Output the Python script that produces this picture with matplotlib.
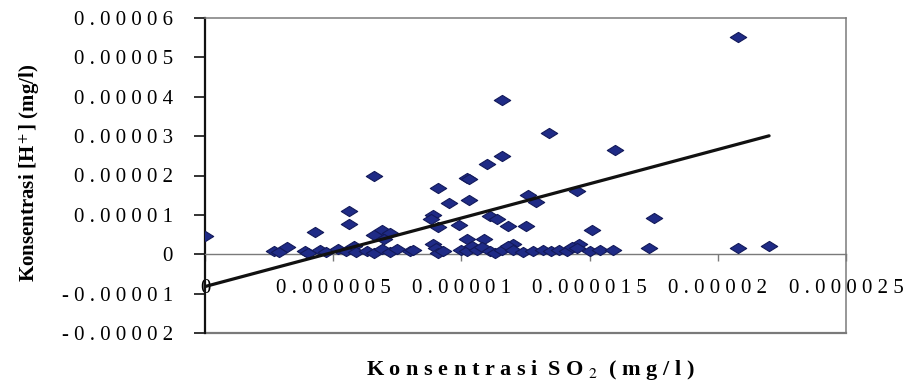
import numpy as np
import matplotlib
matplotlib.use("Agg")
import matplotlib.pyplot as plt
from matplotlib.path import Path

# SO2 vs H+ concentration samples, both in units of 1e-6 mg/l
so2_e6 = [0.0, 20.8, 11.6, 13.4, 16.0, 6.6, 11.6, 11.0, 10.2, 10.3, 9.1, 9.5, 10.3, 12.6,
          12.9, 14.5, 8.9, 8.8, 11.1, 11.4, 11.8, 9.9, 9.1, 12.5, 17.5, 15.1, 14.6, 5.6,
          5.6, 4.3, 6.9, 6.6, 7.2, 7.0, 10.2, 10.9, 12.0, 8.9,
          2.7, 2.9, 3.2, 3.9, 4.0, 4.5, 4.7, 5.2, 5.5, 5.8, 5.9, 6.3, 6.6, 6.9, 7.2, 7.5,
          8.0, 8.1, 9.0, 9.1, 9.3, 10.0, 10.2, 10.4, 10.6, 10.8, 11.1, 11.3, 11.6, 11.8,
          12.0, 12.4, 12.8, 13.2, 13.5, 13.8, 14.1, 14.3, 14.5, 15.0, 15.4, 15.9, 17.3,
          20.8, 22.0]
h_e6 = [4.7, 55.2, 39.2, 30.8, 26.5, 20.0, 24.9, 22.9, 19.4, 19.0, 16.8, 13.1, 13.9, 15.0,
        13.2, 16.0, 10.0, 8.9, 9.7, 8.9, 7.1, 7.5, 7.0, 7.1, 9.2, 6.1, 2.5, 10.9,
        7.6, 5.6, 6.2, 4.8, 5.4, 3.8, 3.8, 3.8, 2.5, 2.5,
        0.8, 0.5, 1.8, 0.8, 0.2, 1.0, 0.6, 1.3, 0.8, 2.0, 0.5, 0.8, 0.2, 1.3, 0.5, 1.3,
        0.8, 1.2, 1.5, 0.3, 0.8, 1.0, 0.8, 2.0, 1.0, 1.8, 0.8, 0.3, 1.0, 2.0,
        1.2, 0.6, 0.8, 1.0, 0.8, 1.0, 0.8, 1.8, 1.5, 0.8, 1.2, 1.0, 1.5,
        1.5, 2.0]
trend_intercept = -8.2e-6
trend_slope = 1.74

xticks = [0, 0.000005, 0.00001, 0.000015, 0.00002, 0.000025]
xtick_labels = ["0", "0.000005", "0.00001", "0.000015", "0.00002", "0.000025"]
yticks = [-0.00002, -0.00001, 0, 0.00001, 0.00002, 0.00003, 0.00004, 0.00005, 0.00006]
ytick_labels = ["-0.00002", "-0.00001", "0", "0.00001", "0.00002", "0.00003",
                "0.00004", "0.00005", "0.00006"]

so2 = np.array(so2_e6) * 1e-6
h = np.array(h_e6) * 1e-6

plt.rcParams["font.family"] = ["Liberation Serif", "DejaVu Serif"]
plt.rcParams["mathtext.fontset"] = "stix"
spaced = lambda s: " ".join(s)   # letter-spaced labels
GRAY = "#7a7a7a"

fig = plt.figure(figsize=(9.05, 3.88), dpi=100)
ax = fig.add_axes([205/905, 1-333/388, 641/905, 315/388])

# axis frame first: moving the spine resets tick settings
ax.spines["bottom"].set_position(("data", 0)); ax.spines["bottom"].set_color(GRAY); ax.spines["bottom"].set_linewidth(1.0)
ax.spines["left"].set_color("#111111"); ax.spines["left"].set_linewidth(1.6)
for sp in ("top", "right"):
    ax.spines[sp].set_color(GRAY); ax.spines[sp].set_linewidth(1.1)
ax.plot([0, 1], [0, 0], transform=ax.transAxes, c=GRAY, lw=1.6, clip_on=False)

# flattened diamond like the spreadsheet marker
diamond = Path([(-1, 0), (0, 0.62), (1, 0), (0, -0.62), (-1, 0)], closed=True)
ax.scatter(so2, h, marker=diamond, s=140, c="#1f2b86", edgecolors="#131a5a", linewidths=0.8, zorder=3)
xs = np.array([0, so2.max()])
ax.plot(xs, trend_intercept + trend_slope*xs, c="#111111", lw=2.3, zorder=4, solid_capstyle="round")

ax.set_xlim(0, 0.000025); ax.set_ylim(-0.00002, 0.00006)
ax.set_xticks(xticks); ax.set_xticklabels([spaced(t) for t in xtick_labels])
ax.set_yticks(yticks); ax.set_yticklabels([spaced(t) for t in ytick_labels])
ax.tick_params(axis="y", direction="out", length=8, width=1.2, color="#111111", pad=15, labelsize=15)
ax.tick_params(axis="x", direction="out", length=5, width=1.0, color=GRAY, pad=13, labelsize=15)

fig.text(30/905, 1-173/388, "Konsentrasi [H$^+$] (mg/l)", rotation=90, ha="center", va="center",
         fontsize=15, fontweight="bold")
fig.text(530/905, 1-370/388, "  ".join(spaced(w) for w in ["Konsentrasi", "SO$_2$", "(mg/l)"]).replace("$ _ 2 $", "$_2$"),
         ha="center", va="center", fontsize=16, fontweight="bold")

fig.savefig("out.png", dpi=100)
